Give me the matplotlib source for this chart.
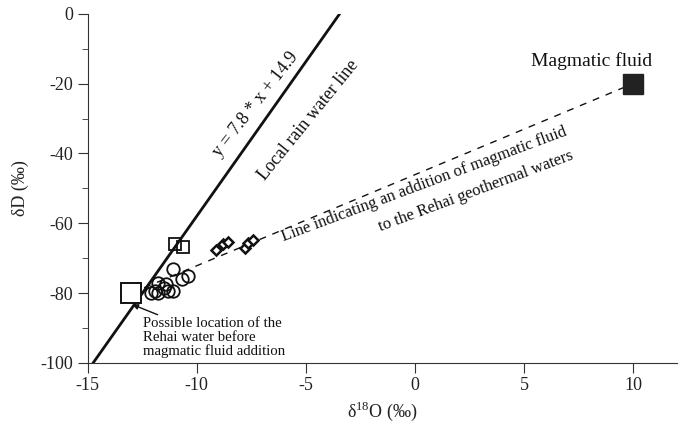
import matplotlib
matplotlib.use("Agg")
import matplotlib.pyplot as plt
from matplotlib.ticker import MultipleLocator

plt.rcParams["font.family"] = ["Liberation Serif", "DejaVu Serif"]
plt.rcParams["mathtext.fontset"] = "custom"
plt.rcParams["mathtext.rm"] = "Liberation Serif"
plt.rcParams["axes.unicode_minus"] = False

# Rehai geothermal waters (d18O, dD)
circle_x = [-11.8, -11.9, -12.1, -11.4, -11.3, -11.1, -11.1, -10.7, -10.4, -11.8, -11.5]
circle_y = [-77.0, -79.5, -80.0, -77.5, -79.5, -73.0, -79.5, -76.0, -75.0, -80.0, -78.5]
diamond_x = [-9.1, -8.8, -8.55, -7.8, -7.65, -7.4]
diamond_y = [-67.6, -66.0, -65.3, -67.0, -65.7, -64.9]
square_x = [-11.0, -10.65]
square_y = [-66.0, -66.8]

# local meteoric water line endpoints, as drawn
mwl_x = [-14.75, -3.45]
mwl_y = [-100.0, 0.0]

# mixing line: initial water -> magmatic fluid
initial_pt = (-13.0, -80.0)
magmatic_pt = (10.0, -20.0)

fig = plt.figure(figsize=(6.8, 4.33), dpi=100)
ax = fig.add_axes([0.129, 0.162, 0.866, 0.806])

ax.plot(mwl_x, mwl_y, color="#111111", lw=2.0, zorder=3)
ax.plot([initial_pt[0], magmatic_pt[0]], [initial_pt[1], magmatic_pt[1]],
        color="#111111", lw=1.0, ls=(0, (5, 5)), zorder=2)

ax.plot(circle_x, circle_y, "o", ms=9, mfc="none", mec="#111111", mew=1.3, zorder=4)
ax.plot(diamond_x, diamond_y, "D", ms=5.5, mfc="white", mec="#111111", mew=1.8, zorder=4)
ax.plot(square_x, square_y, "s", ms=8, mfc="none", mec="#111111", mew=1.3, zorder=4)
ax.plot(*initial_pt, "s", ms=14, mfc="white", mec="#111111", mew=1.4, zorder=4)
ax.plot(*magmatic_pt, "s", ms=14, mfc="#222222", mec="#222222", zorder=4)

ax.set_xlim(-15, 12)
ax.set_ylim(-100, 0)
ax.xaxis.set_major_locator(MultipleLocator(5))
ax.yaxis.set_major_locator(MultipleLocator(20))
ax.yaxis.set_minor_locator(MultipleLocator(10))
for s in ["top", "right"]:
    ax.spines[s].set_visible(False)
for s in ["left", "bottom"]:
    ax.spines[s].set_color("#333333")
ax.tick_params(which="major", direction="out", length=7, labelsize=13, colors="#333333",
               labelcolor="#222222")
ax.tick_params(which="minor", direction="out", length=4, colors="#333333")

ax.set_xlabel(r"δ$^{\mathrm{18}}$O (‰)", fontsize=13, color="#222222", labelpad=4)
ax.set_ylabel("δD (‰)", fontsize=13, color="#222222", labelpad=8)

ax.text(-7.3, -26.0, "y = 7.8 * x + 14.9", rotation=52, fontsize=13,
        ha="center", va="center", rotation_mode="anchor", color="#111111")
ax.text(-4.86, -30.4, "Local rain water line", rotation=51, fontsize=13,
        ha="center", va="center", rotation_mode="anchor", color="#111111")
ax.text(0.45, -49.0, "Line indicating an addition of magmatic fluid", rotation=20.5,
        fontsize=12, ha="center", va="center", rotation_mode="anchor", color="#111111")
ax.text(2.8, -50.8, "to the Rehai geothermal waters", rotation=20.5,
        fontsize=12, ha="center", va="center", rotation_mode="anchor", color="#111111")
ax.text(8.12, -16.0, "Magmatic fluid", fontsize=14, ha="center", va="bottom", color="#111111")

ax.annotate("Possible location of the\nRehai water before\nmagmatic fluid addition",
            xy=(-12.95, -83.3), xytext=(-12.45, -87.0), fontsize=10.6, ha="left", va="top",
            linespacing=1.02, color="#111111",
            arrowprops=dict(arrowstyle="-|>", color="#111111", lw=1.0, mutation_scale=8,
                            shrinkA=0, shrinkB=0))

fig.savefig("out.png", dpi=100)
